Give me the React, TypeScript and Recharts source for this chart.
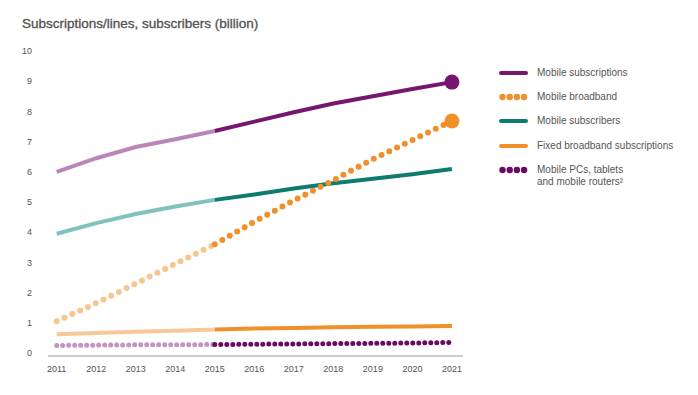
import React from "react";
import { LineChart, Line, XAxis, YAxis } from "recharts";

const years = [2011, 2012, 2013, 2014, 2015, 2016, 2017, 2018, 2019, 2020, 2021];
const mobileSubscriptions = [6.0, 6.45, 6.82, 7.08, 7.35, 7.66, 7.97, 8.26, 8.5, 8.74, 8.97];
const mobileBroadband = [1.05, 1.65, 2.3, 2.95, 3.6, 4.35, 5.05, 5.72, 6.42, 7.05, 7.68];
const mobileSubscribers = [3.95, 4.3, 4.6, 4.85, 5.07, 5.25, 5.45, 5.62, 5.77, 5.92, 6.09];
const fixedBroadband = [0.62, 0.66, 0.7, 0.74, 0.78, 0.81, 0.83, 0.85, 0.87, 0.88, 0.89];
const mobilePCs = [0.25, 0.26, 0.27, 0.27, 0.28, 0.29, 0.3, 0.31, 0.32, 0.33, 0.35];
const yTicks = [0, 1, 2, 3, 4, 5, 6, 7, 8, 9, 10];
const splitYear = 2015;

const title = "Subscriptions/lines, subscribers (billion)";
const legendItems = [
  { label: ["Mobile subscriptions"], color: "#76166f", dotted: false },
  { label: ["Mobile broadband"], color: "#f0902a", dotted: true },
  { label: ["Mobile subscribers"], color: "#0f7a70", dotted: false },
  { label: ["Fixed broadband subscriptions"], color: "#f0902a", dotted: false },
  { label: ["Mobile PCs, tablets", "and mobile routers\u00b2"], color: "#6a0a60", dotted: true },
];

const C = {
  msDark: "#76166f",
  msLight: "#b987b7",
  bbDark: "#f0902a",
  bbLight: "#f7c690",
  subDark: "#0f7a70",
  subLight: "#80c3bc",
  fbDark: "#f0902a",
  fbLight: "#f7c898",
  pcDark: "#6a0a60",
  pcLight: "#c393c2",
};

const split = (arr: number[], i: number, hist: boolean) => {
  const y = years[i];
  if (hist) return y <= splitYear ? arr[i] : null;
  return y >= splitYear ? arr[i] : null;
};

const data = years.map((year, i) => ({
  year,
  msH: split(mobileSubscriptions, i, true),
  msF: split(mobileSubscriptions, i, false),
  bbH: split(mobileBroadband, i, true),
  bbF: split(mobileBroadband, i, false),
  subH: split(mobileSubscribers, i, true),
  subF: split(mobileSubscribers, i, false),
  fbH: split(fixedBroadband, i, true),
  fbF: split(fixedBroadband, i, false),
  pcH: split(mobilePCs, i, true),
  pcF: split(mobilePCs, i, false),
}));

const endDot = (color: string) => (props: any) => {
  const { cx, cy, payload, index } = props;
  if (payload && payload.year === years[years.length - 1] && cx != null && cy != null) {
    return <circle key={"end" + index} cx={cx} cy={cy} r={7.5} fill={color} stroke="none" />;
  }
  return <g key={"n" + index} />;
};

const font = "'Liberation Sans', Arial, sans-serif";

const LegendBlock = () => (
  <div style={{ position: "absolute", left: 491, top: 60, fontFamily: font, fontSize: 10, color: "#555" }}>
    {legendItems.map((it, i) => (
      <div key={i} style={{ position: "absolute", left: 0, top: [0, 24, 48, 72.5, 97][i], display: "flex", alignItems: "flex-start" }}>
        <svg width={30} height={10} style={{ display: "block" }}>
          {it.dotted ? (
            [0, 1, 2, 3].map((k) => <circle key={k} cx={3.5 + k * 7.2} cy={5} r={3.2} fill={it.color} />)
          ) : (
            <line x1={2} y1={5} x2={27} y2={5} stroke={it.color} strokeWidth={4} strokeLinecap="round" />
          )}
        </svg>
        <div style={{ marginLeft: 8, lineHeight: "12px", marginTop: -1, whiteSpace: "nowrap" }}>
          {it.label.map((l, j) => (
            <div key={j}>{l}</div>
          ))}
        </div>
      </div>
    ))}
  </div>
);

export default function App() {
  return (
    <div style={{ position: "relative", width: 698, height: 387 }}>
      <div
        style={{
          position: "absolute",
          left: 14,
          top: 8,
          fontFamily: font,
          fontSize: 13.5,
          color: "#555",
          WebkitTextStroke: "0.35px #555",
          whiteSpace: "nowrap",
        }}
      >
        {title}
      </div>
      <LineChart width={698} height={387} data={data} margin={{ top: 43, right: 243, bottom: 9, left: 0 }}>
        <XAxis
          dataKey="year"
          type="number"
          domain={[2010.78, 2021.28]}
          ticks={years}
          allowDataOverflow
          axisLine={{ stroke: "#9a9a9a", strokeWidth: 1 }}
          tickLine={false}
          tickSize={0}
          tickMargin={10}
          height={30}
          tick={{ fill: "#555", fontSize: 9, fontFamily: font }}
        />
        <YAxis
          domain={[-0.1, 10]}
          ticks={yTicks}
          allowDataOverflow
          axisLine={false}
          tickLine={false}
          tickSize={0}
          tickMargin={16}
          width={40}
          tick={{ fill: "#555", fontSize: 9, fontFamily: font }}
        />
        <Line type="linear" dataKey="fbH" stroke={C.fbLight} strokeWidth={4} dot={false} isAnimationActive={false} />
        <Line type="linear" dataKey="fbF" stroke={C.fbDark} strokeWidth={4} dot={false} isAnimationActive={false} />
        <Line type="linear" dataKey="pcH" stroke={C.pcLight} strokeWidth={5} strokeDasharray="0 6" strokeLinecap="round" dot={false} isAnimationActive={false} />
        <Line type="linear" dataKey="pcF" stroke={C.pcDark} strokeWidth={5} strokeDasharray="0 6" strokeLinecap="round" dot={false} isAnimationActive={false} />
        <Line type="linear" dataKey="subH" stroke={C.subLight} strokeWidth={4} dot={false} isAnimationActive={false} />
        <Line type="linear" dataKey="subF" stroke={C.subDark} strokeWidth={4} dot={false} isAnimationActive={false} />
        <Line type="linear" dataKey="bbH" stroke={C.bbLight} strokeWidth={6} strokeDasharray="0 8.6" strokeLinecap="round" dot={false} isAnimationActive={false} />
        <Line type="linear" dataKey="bbF" stroke={C.bbDark} strokeWidth={6} strokeDasharray="0 8.6" strokeLinecap="round" dot={endDot(C.bbDark)} isAnimationActive={false} />
        <Line type="linear" dataKey="msH" stroke={C.msLight} strokeWidth={4} dot={false} isAnimationActive={false} />
        <Line type="linear" dataKey="msF" stroke={C.msDark} strokeWidth={4} dot={endDot(C.msDark)} isAnimationActive={false} />
      </LineChart>
      <LegendBlock />
    </div>
  );
}
